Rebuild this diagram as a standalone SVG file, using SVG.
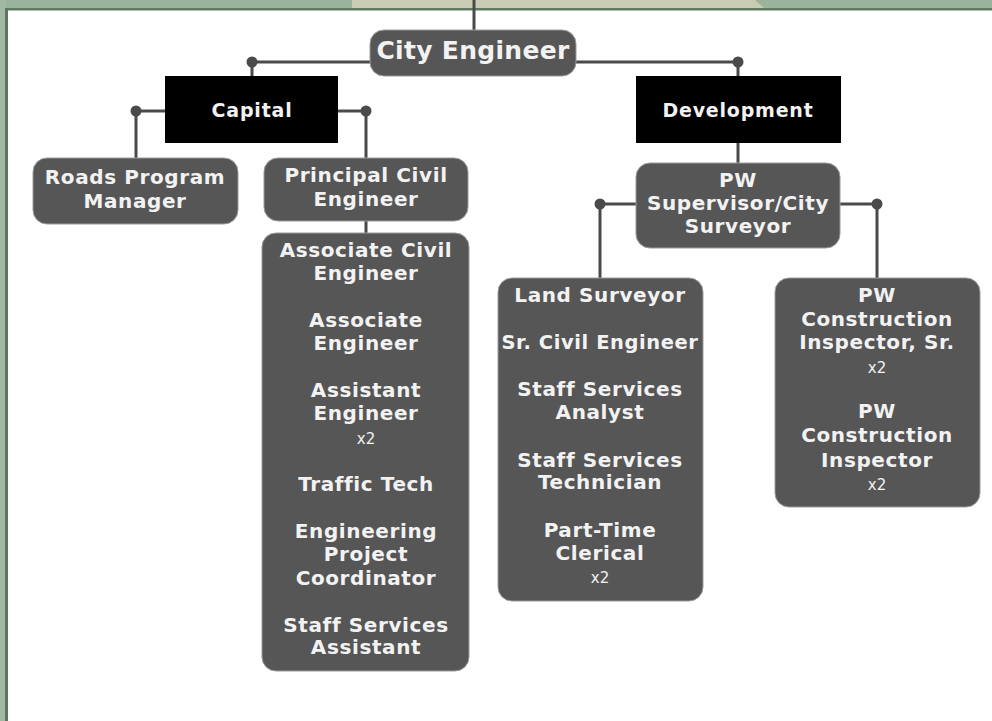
<svg xmlns="http://www.w3.org/2000/svg" width="992" height="721" viewBox="0 0 992 721">
<style>
.box{fill:#565656;stroke:#9a9a9a;stroke-width:1}
.blk{fill:#000}
.t{font-family:"DejaVu Sans","Liberation Sans",sans-serif;font-weight:700;font-size:20px;letter-spacing:0.6px;fill:#f2f2f2;text-anchor:middle}
.h{font-size:19px;letter-spacing:0.8px}
.ce{font-size:25px;letter-spacing:0.3px}
.x{font-weight:400;font-size:15px;letter-spacing:0}
.ln{stroke:#4a4a4a;stroke-width:3;fill:none}
.dot{fill:#4a4a4a}
</style>
<rect x="0" y="0" width="992" height="721" fill="#ffffff"/>
<rect x="0" y="0" width="992" height="9" fill="#9cb39b"/>
<polygon points="352,0 755,0 765,9 352,9" fill="#c9cbb3"/>
<rect x="0" y="8" width="992" height="2.5" fill="#5f7a62"/>
<rect x="0" y="0" width="6" height="721" fill="#a3b8a3"/>
<rect x="5" y="8" width="3" height="713" fill="#5f7462"/>
<g id="connectors">
<path class="ln" d="M474,0 V32"/>
<path class="ln" d="M252,62 H738"/>
<path class="ln" d="M252,62 V77"/>
<path class="ln" d="M738,62 V77"/>
<path class="ln" d="M136,111 H166 M136,111 V159"/>
<path class="ln" d="M338,111 H366 V159"/>
<path class="ln" d="M366,220 V234"/>
<path class="ln" d="M738,142 V164"/>
<path class="ln" d="M600,204 H637 M600,204 V279"/>
<path class="ln" d="M839,204 H877 V279"/>
<circle class="dot" cx="252" cy="62" r="5.5"/>
<circle class="dot" cx="738" cy="62" r="5.5"/>
<circle class="dot" cx="136" cy="111" r="5.5"/>
<circle class="dot" cx="366" cy="111" r="5.5"/>
<circle class="dot" cx="600" cy="204" r="5.5"/>
<circle class="dot" cx="877" cy="204" r="5.5"/>
</g>
<g id="city-engineer">
<rect class="box" x="370" y="30" width="206" height="46" rx="14"/>
<text class="t ce" x="473" y="59">City Engineer</text>
</g>
<g id="capital">
<rect class="blk" x="165" y="76" width="173" height="67"/>
<text class="t h" x="252" y="117">Capital</text>
</g>
<g id="development">
<rect class="blk" x="636" y="76" width="205" height="67"/>
<text class="t h" x="738" y="117">Development</text>
</g>
<g id="roads">
<rect class="box" x="33" y="158" width="205" height="66" rx="14"/>
<text class="t" x="135" y="184">Roads Program</text>
<text class="t" x="135" y="208">Manager</text>
</g>
<g id="principal">
<rect class="box" x="264" y="158" width="204" height="63" rx="14"/>
<text class="t" x="366" y="182">Principal Civil</text>
<text class="t" x="366" y="206">Engineer</text>
</g>
<g id="capital-staff">
<rect class="box" x="262" y="233" width="207" height="438" rx="14"/>
<text class="t" x="366" y="257">Associate Civil</text>
<text class="t" x="366" y="280">Engineer</text>
<text class="t" x="366" y="327">Associate</text>
<text class="t" x="366" y="350">Engineer</text>
<text class="t" x="366" y="397">Assistant</text>
<text class="t" x="366" y="420">Engineer</text>
<text class="t x" x="366" y="444">x2</text>
<text class="t" x="366" y="491">Traffic Tech</text>
<text class="t" x="366" y="538">Engineering</text>
<text class="t" x="366" y="561">Project</text>
<text class="t" x="366" y="585">Coordinator</text>
<text class="t" x="366" y="632">Staff Services</text>
<text class="t" x="366" y="654">Assistant</text>
</g>
<g id="pw-supervisor">
<rect class="box" x="636" y="163" width="204" height="85" rx="14"/>
<text class="t" x="738" y="187">PW</text>
<text class="t" x="738" y="210">Supervisor/City</text>
<text class="t" x="738" y="233">Surveyor</text>
</g>
<g id="survey-staff">
<rect class="box" x="498" y="278" width="205" height="323" rx="14"/>
<text class="t" x="600" y="302">Land Surveyor</text>
<text class="t" x="600" y="349" textLength="197" lengthAdjust="spacingAndGlyphs">Sr. Civil Engineer</text>
<text class="t" x="600" y="396">Staff Services</text>
<text class="t" x="600" y="419">Analyst</text>
<text class="t" x="600" y="467">Staff Services</text>
<text class="t" x="600" y="489">Technician</text>
<text class="t" x="600" y="537">Part-Time</text>
<text class="t" x="600" y="560">Clerical</text>
<text class="t x" x="600" y="583">x2</text>
</g>
<g id="inspectors">
<rect class="box" x="775" y="278" width="205" height="229" rx="14"/>
<text class="t" x="877" y="302">PW</text>
<text class="t" x="877" y="326">Construction</text>
<text class="t" x="877" y="349">Inspector, Sr.</text>
<text class="t x" x="877" y="373">x2</text>
<text class="t" x="877" y="418">PW</text>
<text class="t" x="877" y="442">Construction</text>
<text class="t" x="877" y="467">Inspector</text>
<text class="t x" x="877" y="490">x2</text>
</g>
</svg>
